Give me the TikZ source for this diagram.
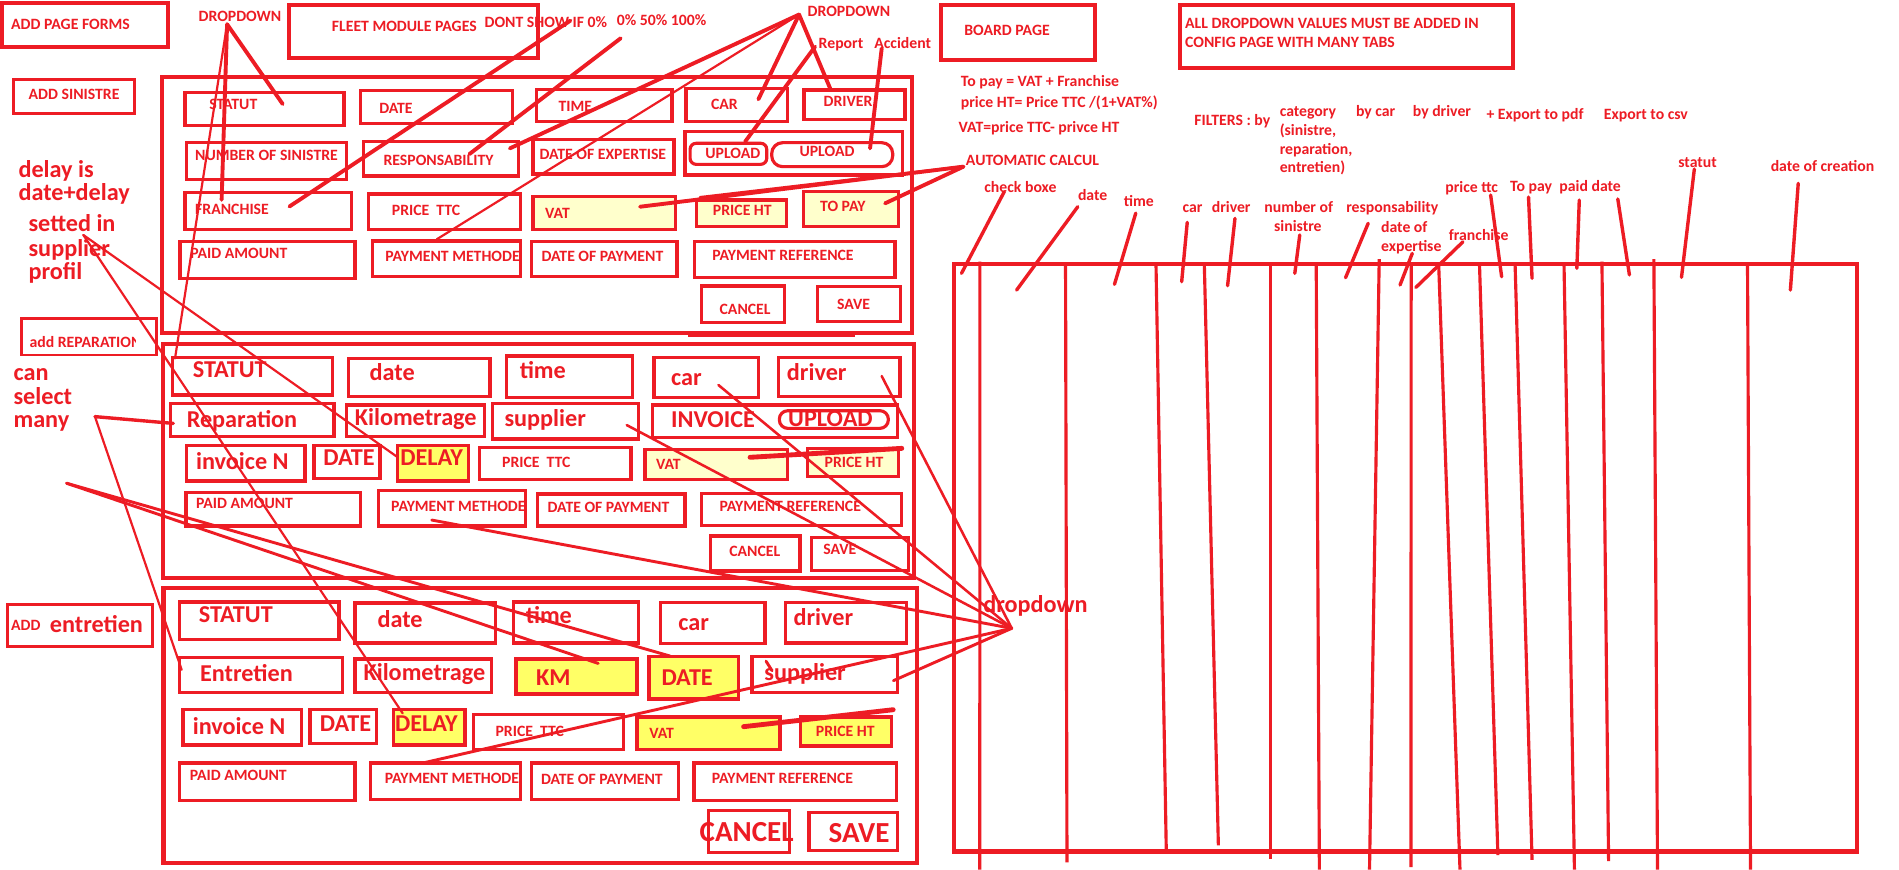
\documentclass[tikz,border=0pt]{standalone}
\usepackage{fontspec}
\setmainfont{Carlito}
\usetikzlibrary{fit}
\definecolor{pred}{RGB}{237,28,36}
\definecolor{pyel}{RGB}{255,255,204}
\definecolor{byel}{RGB}{255,255,102}
\tikzset{
  box/.style={draw=pred, line width=2.8pt, inner sep=0pt},
  frm/.style={draw=pred, line width=3.4pt, inner sep=0pt},
  pill/.style={draw=pred, line width=2.6pt, inner sep=0pt, rounded corners=7pt},
  lbl/.style={anchor=west, inner sep=0pt, text=pred, font=\bfseries\fontsize{13}{15}\selectfont, text height=8.5pt, text depth=0pt},
  big/.style={lbl, font=\bfseries\fontsize{20}{24}\selectfont, text height=13pt},
  huge/.style={lbl, font=\bfseries\fontsize{24}{28}\selectfont, text height=15.6pt},
  thk/.style={draw=pred, line width=3.2pt, line cap=round},
  med/.style={draw=pred, line width=2.4pt, line cap=round},
  thn/.style={draw=pred, line width=1.8pt, line cap=round},
  col/.style={draw=pred, line width=2.6pt},
}
\begin{document}
\begin{tikzpicture}[x=1pt,y=-1pt]
\useasboundingbox (0,0) rectangle (1568,718);
\fill[white] (0,0) rectangle (1568,718);

% ---------- top row ----------
\node[frm, fit={(1.5,2.8) (139,38.5)}] (addforms) {};
\node[lbl] (addformsT) at (9,19.8) {ADD PAGE FORMS};
\node[lbl] (ddtl) at (163.8,13.2) {DROPDOWN};
\node[frm, fit={(238.9,4.1) (444,48.2)}] (fleet) {};
\node[lbl] (fleetT) at (273.9,21.5) {FLEET MODULE PAGES};
\node[lbl] (dont) at (400,18.3) {DONT SHOW IF 0\%};
\node[lbl] (pct) at (509.2,16.5) {0\% 50\% 100\%};
\node[lbl] (ddtr) at (666.7,9.1) {DROPDOWN};
\node[lbl] (report) at (675.8,35.8) {Report};
\node[lbl] (accident) at (721.7,35.8) {Accident};
\node[frm, fit={(776.8,4.1) (904.2,49.5)}] (board) {};
\node[lbl] (boardT) at (796,24.8) {BOARD PAGE};
\node[frm, fit={(974.4,4) (1249.4,56.4)}] (cfg) {};
\node[lbl] (cfg1) at (978.4,19.3) {ALL DROPDOWN VALUES MUST BE ADDED IN};
\node[lbl] (cfg2) at (978.4,35.2) {CONFIG PAGE WITH MANY TABS};

% ---------- left notes ----------
\node[box, line width=2.2pt, fit={(11,65.5) (111,93.6)}] (addsin) {};
\node[lbl] (addsinT) at (23.5,77.9) {ADD SINISTRE};
\node[big] (n1) at (15.1,139.8) {delay is};
\node[big] (n2) at (15.1,159.1) {date+delay};
\node[big] (n3) at (23.4,185) {setted in};
\node[big] (n4) at (23.4,205) {supplier};
\node[big] (n5) at (23.4,224.3) {profil};
\node[box, line width=2.2pt, fit={(17.9,262.9) (129.4,293.1)}] (addrep) {};
\begin{scope}
\clip (15,255) rectangle (112,300);
\node[lbl] (addrepT) at (24.2,283) {add REPARATION};
\end{scope}
\node[big] (n6) at (11,307.7) {can};
\node[big] (n7) at (11,327.6) {select};
\node[big] (n8) at (11,346.8) {many};
\node[box, line width=2.2pt, fit={(6,499) (126,534)}] (addent) {};
\node[lbl] (addentA) at (9,516) {ADD};
\node[big] (addentB) at (41,516) {entretien};

% ---------- form 1 : sinistre ----------
\node[frm, fit={(133.5,63.5) (753,274.7)}] (f1) {};
\draw[pred, line width=2.5pt] (568,277) -- (706,277);
\node[box, fit={(152.8,76.5) (284,103.8)}] (f1stat) {};
\node[lbl] at (172.6,86) (f1statT) {STATUT};
\node[box, fit={(297.8,74.9) (423.3,101.8)}] (f1date) {};
\node[lbl] at (313,89.5) (f1dateT) {DATE};
\node[box, fit={(443,73.8) (555,100.5)}] (f1time) {};
\node[lbl] at (461,88) (f1timeT) {TIME};
\node[box, fit={(566.5,72.9) (650.2,100.5)}] (f1car) {};
\node[lbl] at (586.9,85.9) (f1carT) {CAR};
\node[box, fit={(663.9,74.3) (747.3,98.5)}] (f1drv) {};
\node[lbl] at (679.9,84) (f1drvT) {DRIVER};
\node[box, fit={(154,117.8) (286,148)}] (f1num) {};
\node[lbl] at (161,128.5) (f1numT) {NUMBER OF SINISTRE};
\node[box, fit={(300,117) (428,145.3)}] (f1resp) {};
\node[lbl] at (316.5,132) (f1respT) {RESPONSABILITY};
\node[box, fit={(440,115) (556.5,143.7)}] (f1exp) {};
\node[lbl] at (445.3,127.2) (f1expT) {DATE OF EXPERTISE};
\node[box, fit={(565.6,108.7) (745.4,144.5)}] (f1upg) {};
\node[pill, rounded corners=5pt, fit={(569.8,118.3) (633.1,135.7)}] (f1up1) {};
\node[lbl] at (582.2,126.6) (f1up1T) {UPLOAD};
\node[pill, rounded corners=9pt, fit={(637.2,117.8) (737.1,137.6)}] (f1up2) {};
\node[lbl] at (660,125.3) (f1up2T) {UPLOAD};
\node[box, fit={(152.8,158.8) (290.4,189.4)}] (f1fr) {};
\node[lbl] at (161,172.9) (f1frT) {FRANCHISE};
\node[box, fit={(304.2,160.2) (430,189.4)}] (f1ttc) {};
\node[lbl] at (323.4,174) (f1ttcT) {PRICE\ \ TTC};
\node[box, fill=pyel, fit={(440,162.4) (557.5,189.4)}] (f1vat) {};
\node[lbl] at (450,176) (f1vatT) {VAT};
\node[box, fill=pyel, fit={(575.3,165.2) (649.6,187.2)}] (f1ht) {};
\node[lbl] at (588.5,174) (f1htT) {PRICE HT};
\node[box, fill=pyel, fit={(663.4,158.3) (741.8,187.2)}] (f1pay) {};
\node[lbl] at (677,170.7) (f1payT) {TO PAY};
\node[box, fit={(148.6,199.6) (293.1,229.8)}] (f1paid) {};
\node[lbl] at (157,209.2) (f1paidT) {PAID AMOUNT};
\node[box, fit={(307.5,199) (430,228.5)}] (f1pm) {};
\node[lbl] at (318,211.4) (f1pmT) {PAYMENT METHODE};
\node[box, fit={(439,199.6) (559,228.5)}] (f1dop) {};
\node[lbl] at (447,212) (f1dopT) {DATE OF PAYMENT};
\node[box, fit={(573.5,199.6) (739,229)}] (f1ref) {};
\node[lbl] at (588,211) (f1refT) {PAYMENT REFERENCE};
\node[box, fit={(579,236.2) (647.5,266.5)}] (f1can) {};
\node[lbl] at (594,255.4) (f1canT) {CANCEL};
\node[box, fit={(675,236.7) (743.5,265.6)}] (f1sav) {};
\node[lbl] at (691,251) (f1savT) {SAVE};

% ---------- form 2 : reparation ----------
\node[frm, fit={(134.3,284) (755,477)}] (f2) {};
\node[box, fit={(142.6,295) (274.7,326.2)}] (f2stat) {};
\node[big] at (159,305.5) (f2statT) {STATUT};
\node[box, fit={(287.6,295.9) (404.6,327.6)}] (f2date) {};
\node[big] at (305,308) (f2dateT) {date};
\node[box, fit={(418,294) (522,328)}] (f2time) {};
\node[big] at (429,306) (f2timeT) {time};
\node[box, fit={(540,295) (626.2,328)}] (f2car) {};
\node[big] at (554,311.6) (f2carT) {car};
\node[box, fit={(642.7,295) (743.2,327.6)}] (f2drv) {};
\node[big] at (649.6,307.4) (f2drvT) {driver};
\node[box, fit={(141,333.1) (275.8,360.6)}] (f2rep) {};
\node[big] at (154,346.3) (f2repT) {Reparation};
\node[box, fit={(286.3,334.5) (400,360.6)}] (f2km) {};
\node[big] at (292.8,344.6) (f2kmT) {Kilometrage};
\node[box, fit={(406.5,333) (527.1,362.5)}] (f2sup) {};
\node[big] at (416.4,345.4) (f2supT) {supplier};
\node[box, fit={(539,334.4) (741.3,361.1)}] (f2inv) {};
\node[big] at (554,346.3) (f2invT) {INVOICE};
\node[pill, fit={(643.5,339.1) (733.5,353.7)}] (f2up) {};
\node[big] at (650.6,346) (f2upT) {UPLOAD};
\node[box, fit={(154.1,368) (251.9,397.2)}] (f2invn) {};
\node[big] at (161.7,381.2) (f2invnT) {invoice N};
\node[box, fit={(259.3,368) (313.8,395)}] (f2d2) {};
\node[big] at (266.8,378) (f2d2T) {DATE};
\node[box, fill=byel, fit={(328,368) (386.8,397.2)}] (f2del) {};
\node[big] at (330.3,378) (f2delT) {DELAY};
\node[box, fit={(396,369.4) (521,395.8)}] (f2ttc) {};
\node[lbl] at (414.4,382) (f2ttcT) {PRICE\ \ TTC};
\node[box, fill=pyel, fit={(532.6,371) (650.1,395.8)}] (f2vat) {};
\node[lbl] at (541.5,383.1) (f2vatT) {VAT};
\node[box, fill=pyel, fit={(666.7,370.2) (741.8,393.6)}] (f2ht) {};
\node[lbl] at (680.7,381.8) (f2htT) {PRICE HT};
\node[box, fit={(153.6,406.5) (297.8,434.3)}] (f2paid) {};
\node[lbl] at (161.7,415.6) (f2paidT) {PAID AMOUNT};
\node[box, fit={(312.4,405) (434,434.3)}] (f2pm) {};
\node[lbl] at (322.8,417.8) (f2pmT) {PAYMENT METHODE};
\node[box, fit={(444,408) (565.6,434.4)}] (f2dop) {};
\node[lbl] at (452,419) (f2dopT) {DATE OF PAYMENT};
\node[box, fit={(579.4,407.4) (744.6,434.1)}] (f2ref) {};
\node[lbl] at (594,417.8) (f2refT) {PAYMENT REFERENCE};
\node[box, fit={(586.8,442.6) (660.6,471.5)}] (f2can) {};
\node[lbl] at (602,455.6) (f2canT) {CANCEL};
\node[box, fit={(670.2,444) (750.1,471.3)}] (f2sav) {};
\node[lbl] at (679.7,453.7) (f2savT) {SAVE};

% ---------- form 3 : entretien ----------
\node[frm, fit={(135,485.8) (757,712.4)}] (f3) {};
\node[box, fit={(148,497) (280,528)}] (f3stat) {};
\node[big] at (164,507.8) (f3statT) {STATUT};
\node[box, fit={(293,498) (409,531)}] (f3date) {};
\node[big] at (311.5,511.4) (f3dateT) {date};
\node[box, fit={(424,497) (527,531)}] (f3time) {};
\node[big] at (434,508.7) (f3timeT) {time};
\node[box, fit={(545.5,497.7) (631.7,531.2)}] (f3car) {};
\node[big] at (560,514.2) (f3carT) {car};
\node[box, fit={(648.8,497.7) (748.7,531)}] (f3drv) {};
\node[big] at (655,509.8) (f3drvT) {driver};
\node[box, fit={(148,543) (283,572)}] (f3ent) {};
\node[big] at (165,556) (f3entT) {Entretien};
\node[box, fit={(293,544) (406,572)}] (f3kil) {};
\node[big] at (300,555) (f3kilT) {Kilometrage};
\node[box, fill=byel, fit={(426,544) (526,573)}] (f3km) {};
\node[big] at (442.5,559.3) (f3kmT) {KM};
\node[box, fill=byel, fit={(536,542) (610,577)}] (f3dt) {};
\node[big] at (546,559.3) (f3dtT) {DATE};
\node[box, fit={(621,542) (741,572)}] (f3sup) {};
\node[big] at (631,555) (f3supT) {supplier};
\node[box, fit={(151,586) (249,615)}] (f3invn) {};
\node[big] at (159,600.1) (f3invnT) {invoice N};
\node[box, fit={(256,586) (311,614)}] (f3d2) {};
\node[big] at (264,597.3) (f3d2T) {DATE};
\node[box, fill=byel, fit={(325,586) (384,615)}] (f3del) {};
\node[big] at (326,597.3) (f3delT) {DELAY};
\node[box, fit={(391,590) (515,619)}] (f3ttc) {};
\node[lbl] at (409,604.2) (f3ttcT) {PRICE\ \ TTC};
\node[box, fill=byel, fit={(526,592) (644,619)}] (f3vat) {};
\node[lbl] at (536,605.6) (f3vatT) {VAT};
\node[box, fill=byel, fit={(661,592) (736,616)}] (f3ht) {};
\node[lbl] at (673.5,604.2) (f3htT) {PRICE HT};
\node[box, fit={(148,630) (293,661)}] (f3paid) {};
\node[lbl] at (156.5,640) (f3paidT) {PAID AMOUNT};
\node[box, fit={(306,630) (430,660)}] (f3pm) {};
\node[lbl] at (317.5,642.7) (f3pmT) {PAYMENT METHODE};
\node[box, fit={(439,630) (560,660)}] (f3dop) {};
\node[lbl] at (446.5,643.6) (f3dopT) {DATE OF PAYMENT};
\node[box, fit={(573,630) (740,661)}] (f3ref) {};
\node[lbl] at (587.5,642.7) (f3refT) {PAYMENT REFERENCE};
\node[box, fit={(585,669) (652,704)}] (f3can) {};
\node[huge] at (577.5,686.7) (f3canT) {CANCEL};
\node[box, fit={(668,671) (741,702)}] (f3sav) {};
\node[huge] at (684,688) (f3savT) {SAVE};

% ---------- right side texts ----------
\node[lbl] (r1) at (793.2,67.5) {To pay = VAT + Franchise};
\node[lbl] (r2) at (793.2,84.8) {price HT= Price TTC /(1+VAT\%)};
\node[lbl] (r3) at (791.4,105.4) {VAT=price TTC- privce HT};
\node[lbl] (auto) at (797.4,132.1) {AUTOMATIC CALCUL};
\node[lbl] (filt) at (986,99) {FILTERS : by};
\node[lbl] (cat1) at (1056.5,92.2) {category};
\node[lbl] (cat2) at (1056.5,107.9) {(sinistre,};
\node[lbl] (cat3) at (1056.5,123.3) {reparation,};
\node[lbl] (cat4) at (1056.5,138.5) {entretien)};
\node[lbl] (bycar) at (1119.5,92.2) {by car};
\node[lbl] (bydrv) at (1166.4,92.2) {by driver};
\node[lbl] (pdf) at (1227.2,94.1) {+ Export to pdf};
\node[lbl] (csv) at (1324.2,94.1) {Export to csv};
\node[big] (dd) at (811.7,499.6) {dropdown};

% table header labels
\node[lbl] (hchk) at (812.6,154.7) {check boxe};
\node[lbl] (hdate) at (889.9,161.6) {date};
\node[lbl] (htime) at (927.7,166.5) {time};
\node[lbl] (hcar) at (976.2,171.5) {car};
\node[lbl] (hdrv) at (1000.4,171.5) {driver};
\node[lbl] (hnum1) at (1043.8,171.5) {number of};
\node[lbl] (hnum2) at (1051.9,187.2) {sinistre};
\node[lbl] (hresp) at (1111.4,171.5) {responsability};
\node[lbl] (hexp1) at (1140.2,188) {date of};
\node[lbl] (hexp2) at (1140.2,203.7) {expertise};
\node[lbl] (hfr) at (1196.2,194.1) {franchise};
\node[lbl] (httc) at (1193.2,154.7) {price ttc};
\node[lbl] (hpay) at (1246.7,154.2) {To pay};
\node[lbl] (hpaid) at (1287.4,154.2) {paid date};
\node[lbl] (hstat) at (1385.6,134.3) {statut};
\node[lbl] (hcre) at (1461.9,137.1) {date of creation};

% ---------- table ----------
\node[draw=pred, line width=3.5pt, inner sep=0pt, fit={(787.4,218) (1533,703)}] (tab) {};
\draw[col] (809.1,216) -- (809,718);
\draw[col] (879.8,218) -- (881,712);
\draw[col] (954.5,218) -- (963,703);
\draw[col] (994.4,218) -- (1006,698);
\draw[col] (1049,218) -- (1049,709);
\draw[col] (1086.8,218) -- (1089.4,718);
\draw[col] (1138.8,214) -- (1130.8,718);
\draw[col] (1165.2,218) -- (1165,716);
\draw[col] (1187.9,218) -- (1205.5,718);
\draw[col] (1221.6,218) -- (1236.8,706);
\draw[col] (1251,218) -- (1265,710);
\draw[col] (1291.4,218) -- (1300,718);
\draw[col] (1322.7,216) -- (1328.2,711);
\draw[col] (1365.6,214) -- (1368.6,718);
\draw[col] (1442.9,218) -- (1445.4,718);

% header pointers
\coordinate (p1a) at (829.2,158.3); \coordinate (p1b) at (793.9,225.7);
\coordinate (p2a) at (889.9,170.7); \coordinate (p2b) at (839.4,239.5);
\coordinate (p3a) at (937.8,176);   \coordinate (p3b) at (920.2,234.8);
\coordinate (p4a) at (980.3,183.6); \coordinate (p4b) at (975.7,232.6);
\coordinate (p5a) at (1019.7,180.3);\coordinate (p5b) at (1013.6,235.9);
\coordinate (p6a) at (1073.2,194);  \coordinate (p6b) at (1069.1,225.7);
\coordinate (p7a) at (1129.7,184.4);\coordinate (p7b) at (1111,229.3);
\coordinate (p8a) at (1166.1,209.2);\coordinate (p8b) at (1156,235.3);
\coordinate (p9a) at (1208,199.6);  \coordinate (p9b) at (1169.1,237.3);
\coordinate (p10a) at (1230.8,161); \coordinate (p10b) at (1239.9,228.5);
\coordinate (p11a) at (1262.1,162.7);\coordinate (p11b) at (1265,229.8);
\coordinate (p12a) at (1304,165.2); \coordinate (p12b) at (1302,221.5);
\coordinate (p13a) at (1335.8,164.3);\coordinate (p13b) at (1345.4,227);
\coordinate (p14a) at (1399,139.6); \coordinate (p14b) at (1388.4,229);
\coordinate (p15a) at (1484.8,151.4);\coordinate (p15b) at (1478.3,239.5);
\foreach \i in {1,...,15} {\draw[med, line width=2.8pt] (p\i a) -- (p\i b);}

% ---------- connectors (left part) ----------
\coordinate (h1) at (187.5,20);
\coordinate (e1a) at (233.4,85.9);
\coordinate (e1b) at (183,165);
\coordinate (e1c) at (144.5,296);
\draw[thk] (h1) -- (e1a);
\draw[thk] (h1) -- (e1b);
\draw[thn] (h1) -- (e1c);

\coordinate (h2) at (471,17);   \coordinate (e2) at (239,170.5);
\draw[thk] (h2) -- (e2);
\coordinate (h3) at (512.5,31.6); \coordinate (e3) at (387.6,127.2);
\draw[thk] (h3) -- (e3);

\coordinate (h4) at (659.8,12);
\coordinate (e4a) at (421,122.5);
\coordinate (e4b) at (360.6,197.6);
\coordinate (e4c) at (626.2,82);
\coordinate (e4d) at (685.4,72.9);
\draw[thk] (h4) -- (e4a);
\draw[thn] (h4) -- (e4b);
\draw[thk] (h4) -- (e4c);
\draw[thk] (h4) -- (e4d);

\coordinate (h5) at (673,38.5);  \coordinate (e5) at (615.2,117);
\draw[thk] (h5) -- (e5);
\coordinate (h6) at (728,40);    \coordinate (e6) at (718.4,122.5);
\draw[thk] (h6) -- (e6);

\coordinate (h7) at (795.5,137.6);
\coordinate (e7a) at (528.5,170.7);
\coordinate (e7b) at (578,163);
\coordinate (e7c) at (730.8,167.9);
\draw[thk] (h7) -- (e7a);
\draw[med] (h7) -- (e7b);
\draw[thk] (h7) -- (e7c);

\coordinate (v2a) at (619.3,377.6); \coordinate (v2b) at (744.6,370.2);
\draw[thk, line width=4pt] (v2a) -- (v2b);
\coordinate (v3a) at (614,600); \coordinate (v3b) at (737.5,586);
\draw[thk, line width=4pt] (v3a) -- (v3b);

\coordinate (h8) at (68.8,194);
\coordinate (e8a) at (327.6,377);
\coordinate (e8b) at (332.5,589);
\draw[thn] (h8) -- (e8a);
\draw[thn] (h8) -- (e8b);

\coordinate (h9) at (78.4,344);
\coordinate (e9a) at (143.1,349.6);
\coordinate (e9b) at (150,553);
\draw[med, line width=2.8pt] (h9) -- (e9a);
\draw[thn] (h9) -- (e9b);

\coordinate (h10) at (55,399);
\coordinate (e10a) at (494,547.8);
\coordinate (e10b) at (553.3,541.7);
\draw[med] (h10) -- (e10a);
\draw[med] (h10) -- (e10b);

\coordinate (h11) at (835.4,518.8);
\coordinate (e11a) at (593.2,317.9);
\coordinate (e11b) at (728,310.5);
\coordinate (e11c) at (517.5,351);
\coordinate (e11d) at (356.5,429.4);
\coordinate (e11e) at (737.7,562);
\coordinate (e11f) at (350,629.8);
\draw[thn, line width=2.1pt] (h11) -- (e11a);
\draw[thn, line width=2.1pt] (h11) -- (e11b);
\draw[thn, line width=2.1pt] (h11) -- (e11c);
\draw[med] (h11) -- (e11d);
\draw[med] (h11) -- (e11e);
\draw[med] (h11) -- (e11f);

\coordinate (t1) at (632.5,545.9); \coordinate (t2) at (637.5,553.8);
\draw[med] (t1) -- (t2);
\end{tikzpicture}
\end{document}
